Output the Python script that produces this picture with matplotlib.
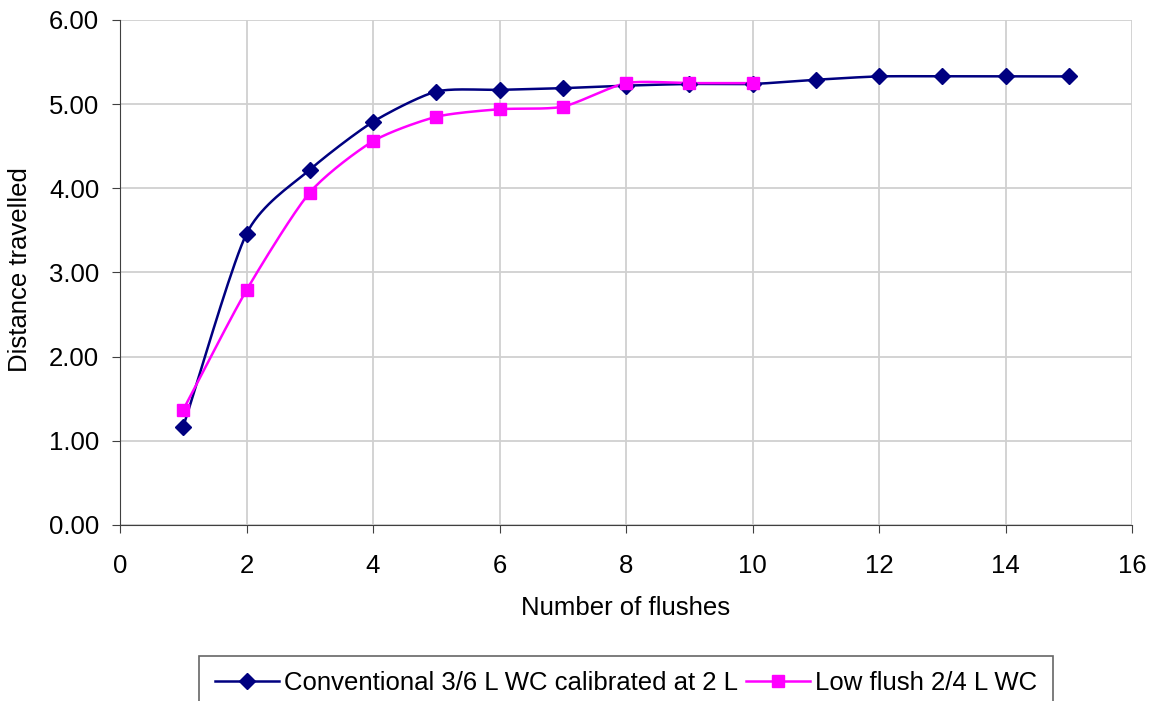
import matplotlib
matplotlib.use("Agg")
import matplotlib.pyplot as plt
import numpy as np

plt.rcParams['font.family'] = ['Liberation Sans', 'DejaVu Sans']

flushes_conv = [1, 2, 3, 4, 5, 6, 7, 8, 9, 10, 11, 12, 13, 14, 15]
dist_conv = [1.17, 3.46, 4.22, 4.79, 5.15, 5.17, 5.19, 5.22, 5.24, 5.24, 5.29, 5.33, 5.33, 5.33, 5.33]
flushes_low = [1, 2, 3, 4, 5, 6, 7, 8, 9, 10]
dist_low = [1.37, 2.79, 3.95, 4.56, 4.85, 4.94, 4.97, 5.25, 5.25, 5.25]

label_conv = "Conventional 3/6 L WC calibrated at 2 L"
label_low = "Low flush 2/4 L WC"


def smooth(x, y, n=20):
    # catmull-rom style smoothing, like excel's smoothed line
    x = np.asarray(x, float)
    y = np.asarray(y, float)
    px = np.concatenate([[2 * x[0] - x[1]], x, [2 * x[-1] - x[-2]]])
    py = np.concatenate([[2 * y[0] - y[1]], y, [2 * y[-1] - y[-2]]])
    xs, ys = [], []
    t = np.linspace(0, 1, n)
    for i in range(1, len(px) - 2):
        p0, p1, p2, p3 = [np.array([px[j], py[j]]) for j in range(i - 1, i + 3)]
        m1 = (p2 - p0) / 2 * 0.7
        m2 = (p3 - p1) / 2 * 0.7
        h00 = 2 * t**3 - 3 * t**2 + 1
        h10 = t**3 - 2 * t**2 + t
        h01 = -2 * t**3 + 3 * t**2
        h11 = t**3 - t**2
        pts = np.outer(h00, p1) + np.outer(h10, m1) + np.outer(h01, p2) + np.outer(h11, m2)
        xs.extend(pts[:, 0])
        ys.extend(pts[:, 1])
    return xs, ys


W, H = 1157, 701
fig = plt.figure(figsize=(W / 100, H / 100), dpi=100)
ax = fig.add_axes([120 / W, 1 - 525 / H, 1012 / W, 505 / H])

navy = "#000080"
pink = "#FF00FF"

sx, sy = smooth(flushes_conv, dist_conv)
ax.plot(sx, sy, color=navy, lw=1.8, zorder=3)
ax.plot(flushes_conv, dist_conv, ls="none", marker="D", ms=8, color=navy, zorder=4)
sx, sy = smooth(flushes_low, dist_low)
ax.plot(sx, sy, color=pink, lw=1.8, zorder=3)
ax.plot(flushes_low, dist_low, ls="none", marker="s", ms=9, color=pink, zorder=5)

# legend handles
h1, = ax.plot([], [], color=navy, marker="D", ms=8, lw=1.8)
h2, = ax.plot([], [], color=pink, marker="s", ms=8, lw=1.8)

ax.set_xlim(0, 16)
ax.set_ylim(0, 6)
ax.set_xticks(range(0, 17, 2))
ax.set_yticks(range(0, 7))
ax.set_yticklabels(["%.2f" % v for v in range(0, 7)])
ax.grid(True, color="#d0d0d0", lw=1.3)
ax.set_axisbelow(True)
for s in ["top", "right"]:
    ax.spines[s].set_visible(False)
for s in ["left", "bottom"]:
    ax.spines[s].set_color("#404040")
ax.tick_params(labelsize=18.5, length=6, color="#404040")
ax.tick_params(axis="x", pad=15)
ax.tick_params(axis="y", pad=9)

fig.text(626 / W, 1 - 608 / H, "Number of flushes", fontsize=18.5, ha="center", va="center")
fig.text(20 / W, 1 - 270 / H, "Distance travelled", fontsize=18.5, ha="center", va="center",
         rotation=90)

leg = fig.legend([h1, h2], [label_conv, label_low], loc="upper center",
                 bbox_to_anchor=(626 / W, 1 - 656 / H), borderaxespad=0,
                 ncol=2, fontsize=18.5, frameon=True, fancybox=False, edgecolor="#404040",
                 handlelength=2.5, handletextpad=0.2, columnspacing=0.3, borderpad=0.6)
leg.get_frame().set_linewidth(1.2)

fig.savefig("out.png", dpi=100)
